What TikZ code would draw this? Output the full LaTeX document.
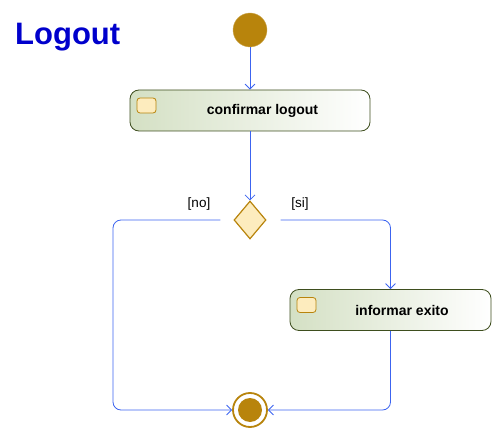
\documentclass[tikz,border=0pt]{standalone}
\usepackage{fontspec}
\setmainfont{Liberation Sans}
\usepackage{tikz}
\usetikzlibrary{arrows.meta,positioning,shapes,calc}
\usetikzlibrary{shapes.geometric}
\definecolor{gold}{RGB}{184,132,12}
\definecolor{paleyellow}{RGB}{253,236,190}
\definecolor{actgreen}{RGB}{212,224,196}
\definecolor{actborder}{RGB}{62,78,30}
\definecolor{flowblue}{RGB}{60,100,240}
\definecolor{titleblue}{RGB}{0,0,204}

\begin{document}
\begin{tikzpicture}[x=1pt, y=-1pt,
            flow/.style={draw=flowblue, line width=0.8pt, rounded corners=8pt, -{Straight Barb[length=5pt,width=10pt]}},
            start/.style={circle, fill=gold, draw=gold!70, minimum size=34pt, inner sep=0pt},
            final/.style={circle, draw=gold, line width=1.8pt, fill=white, minimum size=34pt, inner sep=0pt,
                path picture={\fill[gold] (path picture bounding box.center) circle (12pt);}},
            act/.style={rectangle, rounded corners=9pt, draw=actborder, line width=0.8pt,
                left color=actgreen, right color=white, minimum height=41pt, inner sep=0pt,
                font=\fontsize{14}{16}\selectfont\bfseries,
                path picture={\draw[gold, fill=paleyellow, rounded corners=3pt, line width=0.8pt]
                    ([shift={(7pt,-8pt)}]path picture bounding box.north west) rectangle ++(19pt,-15pt);}},
            dec/.style={diamond, draw=gold, fill=paleyellow, line width=1.2pt, minimum width=32pt, minimum height=38pt, inner sep=0pt},
            guard/.style={font=\fontsize{13.5}{15}\selectfont, inner sep=0pt},
            heading/.style={font=\fontsize{31}{34}\selectfont\bfseries, text=titleblue, inner sep=0pt}]
            \useasboundingbox (0,0) rectangle (501,441);

            \node[heading, anchor=base west] (title) at (15,45) {Logout};

            \node[start] (init) at (250,30) {};
            \node[act, minimum width=240pt] (confirm) at (250,110.5) {\hspace*{25pt}confirmar logout};
            \node[dec] (choice) at (250,220) {};
            \node[act, minimum width=201pt] (inform) at (390.5,310) {\hspace*{23pt}informar exito};
            \node[final] (end) at (250,410) {};

            \node[guard] (nolbl) at (199,204) {[no]};
            \node[guard] (silbl) at (300,204) {[si]};
            \coordinate (lcorner) at (113,410);

            \draw[flow] (init) -- (confirm);
            \draw[flow] (confirm) -- (choice);
            \draw[flow] ([xshift=-13pt]choice.west) -| (lcorner) -- (end);
            \draw[flow] ([xshift=14pt]choice.east) -| (inform);
            \draw[flow] (inform) |- (end);
    \end{tikzpicture}
\end{document}
